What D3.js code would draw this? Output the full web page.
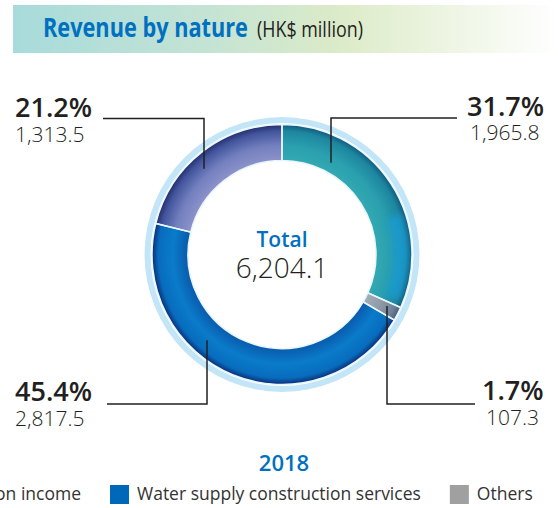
<!DOCTYPE html>
<html>
<head>
<meta charset="utf-8">
<script src="https://cdn.jsdelivr.net/npm/d3@7"></script>
<style>
  body { margin: 0; background: #fff; }
  svg { display: block; }
</style>
</head>
<body>
<script>
// data (HK$ million, 2018)
var categories = ["Water supply operation income", "Others", "Water supply construction services", "Water supply installation income"];
var values = [1965.8, 107.3, 2817.5, 1313.5];
var percents = ["31.7%", "1.7%", "45.4%", "21.2%"];
var valueLabels = ["1,965.8", "107.3", "2,817.5", "1,313.5"];
var totalLabel = "6,204.1";
var year = "2018";
// legend order as printed (first item runs off the left edge)
var legendOrder = [0, 2, 1];

var W = 558, H = 508;
var cx = 282, cy = 254.5;
var rIn = 94, rOut = 130;

// slice shading: [inner, middle, edge, outer]
var shades = [
  ["#33a9b3", "#2a9fae", "#1d86a0", "#115a7c"],
  ["#a3adb5", "#909ca7", "#6f8097", "#4c5f82"],
  ["#0a5aac", "#0a7bca", "#086cbd", "#0a2c76"],
  ["#8d92c9", "#7380bf", "#42549c", "#242e6c"]
];
var legendColors = ["#2a9fae", "#0068b8", "#a0a0a0"];

var svg = d3.select("body").append("svg")
    .attr("width", W)
    .attr("height", H)
    .style("font-family", "'Open Sans', sans-serif");

var defs = svg.append("defs");

// title band
var band = defs.append("linearGradient").attr("id", "band");
band.append("stop").attr("offset", "0%").attr("stop-color", "#a7dbdb");
band.append("stop").attr("offset", "35%").attr("stop-color", "#c4e3d4");
band.append("stop").attr("offset", "60%").attr("stop-color", "#dcebc8");
band.append("stop").attr("offset", "100%").attr("stop-color", "#ffffff");

svg.append("rect")
    .attr("x", 13).attr("y", 5)
    .attr("width", W - 13).attr("height", 48)
    .attr("fill", "url(#band)");

// condensed title: squeeze horizontally to the printed width
function squeezed(str, x, y, width, size, weight, color) {
  var t = svg.append("text")
      .attr("fill", color)
      .attr("font-weight", weight)
      .attr("font-size", size)
      .text(str);
  var k = width / t.node().getComputedTextLength();
  t.attr("transform", "translate(" + x + "," + y + ") scale(" + k + ",1)");
  return t;
}
squeezed("Revenue by nature", 43, 37, 205, 27, "bold", "#0070c0");
squeezed("(HK$ million)", 257, 37, 106, 21, "normal", "#231f20");

// donut
shades.forEach(function(s, i) {
  var g = defs.append("radialGradient")
      .attr("id", "shade" + i)
      .attr("gradientUnits", "userSpaceOnUse")
      .attr("cx", 0).attr("cy", 0).attr("r", rOut);
  g.append("stop").attr("offset", rIn / rOut).attr("stop-color", s[0]);
  g.append("stop").attr("offset", 0.84).attr("stop-color", s[1]);
  g.append("stop").attr("offset", 0.95).attr("stop-color", s[2]);
  g.append("stop").attr("offset", 1).attr("stop-color", s[3]);
});
defs.append("filter").attr("id", "soft")
    .attr("x", "-50%").attr("y", "-50%").attr("width", "200%").attr("height", "200%")
  .append("feGaussianBlur").attr("stdDeviation", 3);

var pie = d3.pie().sort(null).value(function(d) { return d; });
var arcs = pie(values);
var arc = d3.arc().innerRadius(rIn).outerRadius(rOut);

var chart = svg.append("g")
    .attr("transform", "translate(" + cx + "," + cy + ")");

chart.append("path")
    .attr("d", d3.arc().innerRadius(rOut + 1.5).outerRadius(rOut + 7.5)
      .startAngle(0).endAngle(2 * Math.PI)())
    .attr("fill", "#c2e5f7");

chart.selectAll("path.slice")
    .data(arcs)
  .enter().append("path")
    .attr("class", "slice")
    .attr("d", arc)
    .attr("fill", function(d, i) { return "url(#shade" + i + ")"; });

// bright reflection on the outer side of the first slice
defs.append("clipPath").attr("id", "clip0")
  .append("path").attr("d", arc(arcs[0]));
chart.append("g")
    .attr("clip-path", "url(#clip0)")
  .append("path")
    .attr("d", d3.arc().innerRadius(111).outerRadius(126)
      .startAngle(arcs[0].endAngle - 0.75).endAngle(arcs[0].endAngle - 0.05)())
    .attr("fill", "#149fe0")
    .attr("opacity", 0.6)
    .attr("filter", "url(#soft)");

chart.selectAll("path.sep")
    .data(arcs)
  .enter().append("path")
    .attr("class", "sep")
    .attr("d", arc)
    .attr("fill", "none")
    .attr("stroke", "#e8f6fd")
    .attr("stroke-width", 1.5);

chart.append("text")
    .attr("y", -8)
    .attr("text-anchor", "middle")
    .attr("fill", "#0070c0")
    .attr("font-size", 21)
    .attr("font-weight", 600)
    .text("Total");

chart.append("text")
    .attr("y", 23)
    .attr("text-anchor", "middle")
    .attr("fill", "#231f20")
    .attr("font-size", 28)
    .attr("font-weight", 300)
    .text(totalLabel);

// leader lines and labels: elbow x, line y, end radius, label x
var callouts = [
  {i: 0, ex: 331, ly: 118, r: 104, lx0: 457, tx: 467, vx: 470, py: 116, vy: 140},
  {i: 1, ex: 387, ly: 404, r: 117, lx0: 475, tx: 482, vx: 486, py: 400, vy: 425},
  {i: 2, ex: 207, ly: 404, r: 114, lx0: 107, tx: 15, vx: 15, py: 401, vy: 426},
  {i: 3, ex: 204, ly: 118.5, r: 116, lx0: 103, tx: 15, vx: 15, py: 117, vy: 142}
];

callouts.forEach(function(c) {
  var dx = c.ex - cx;
  var dy = Math.sqrt(c.r * c.r - dx * dx) * (c.ly < cy ? -1 : 1);
  svg.append("path")
      .attr("d", d3.line()([[c.lx0, c.ly], [c.ex, c.ly], [c.ex, cy + dy]]))
      .attr("fill", "none")
      .attr("stroke", "#231f20")
      .attr("stroke-width", 1.5);
  svg.append("text")
      .attr("x", c.tx).attr("y", c.py)
      .attr("fill", "#231f20")
      .attr("font-size", 27)
      .attr("font-weight", 600)
      .text(percents[c.i]);
  svg.append("text")
      .attr("x", c.vx).attr("y", c.vy)
      .attr("fill", "#231f20")
      .attr("font-size", 21)
      .attr("font-weight", 300)
      .text(valueLabels[c.i]);
});

// year
svg.append("text")
    .attr("x", 284).attr("y", 471)
    .attr("text-anchor", "middle")
    .attr("fill", "#0070c0")
    .attr("font-size", 22)
    .attr("font-weight", 600)
    .text(year);

// legend: laid out from the measured text widths, anchored at the blue key
var legend = svg.append("g");
var items = legendOrder.map(function(k, j) {
  var g = legend.append("g");
  g.append("rect")
      .attr("width", 19).attr("height", 19)
      .attr("y", -15)
      .attr("fill", legendColors[j]);
  var t = g.append("text")
      .attr("x", 27)
      .attr("fill", "#333")
      .attr("font-size", 17.5)
      .text(categories[k]);
  return {g: g, w: 27 + t.node().getComputedTextLength()};
});
var gap = 29;
var x = 110 - items[0].w - gap;
items.forEach(function(it) {
  it.g.attr("transform", "translate(" + x + ",500)");
  x += it.w + gap;
});
</script>
</body>
</html>
